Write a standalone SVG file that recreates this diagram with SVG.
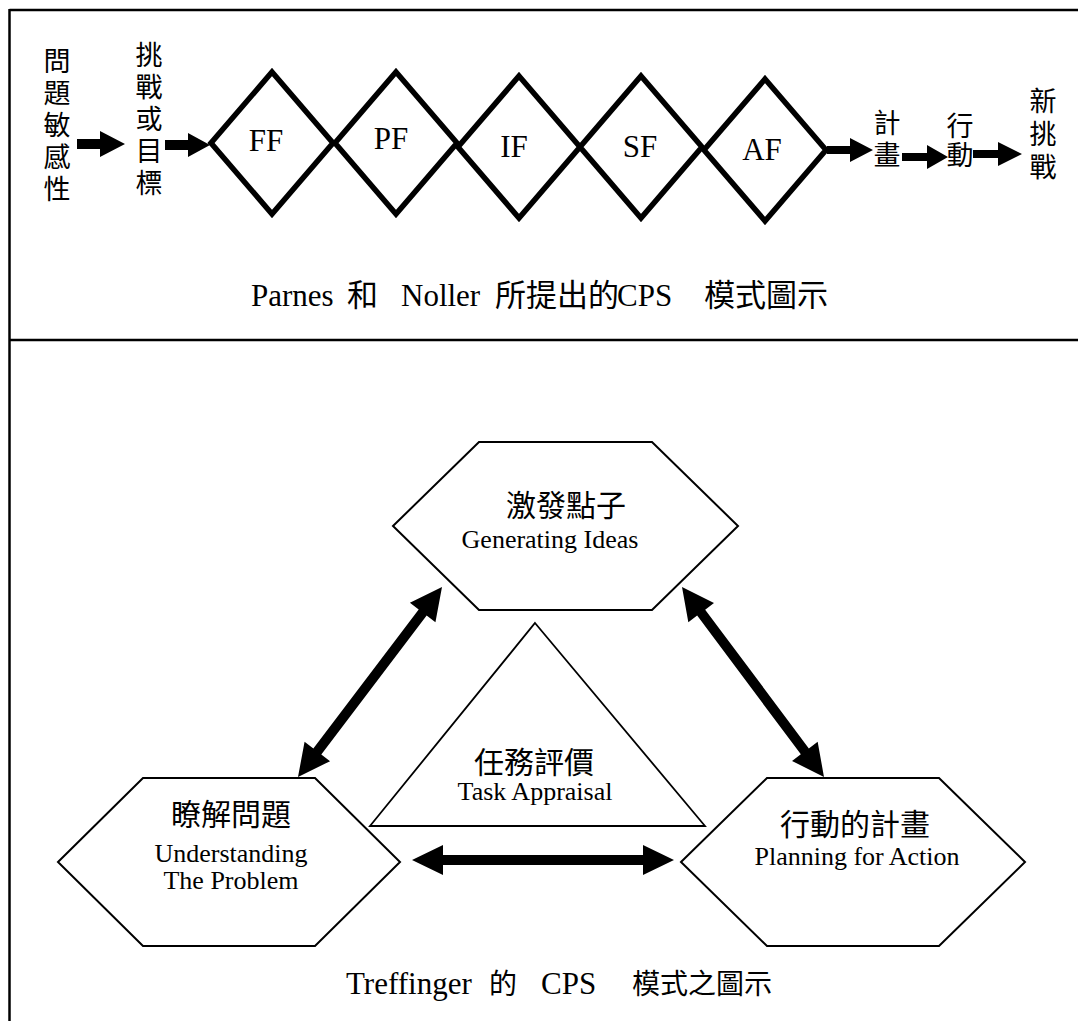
<svg xmlns="http://www.w3.org/2000/svg" width="1078" height="1021" viewBox="0 0 1078 1021">
<style>
.frame{stroke:#000;stroke-width:2.5;fill:none}
.dia{fill:#fff;stroke:#000;stroke-width:5.5;stroke-linejoin:miter}
.hex{fill:#fff;stroke:#000;stroke-width:2}
.tri{fill:#fff;stroke:#000;stroke-width:1.8}
.arr{fill:#000;stroke:none}
text{font-family:"Liberation Serif","Noto Sans CJK TC",serif;fill:#000}
.v{font-size:27px;text-anchor:middle}
.d{font-size:31px;text-anchor:middle}
.cap{font-size:31px}
.zh{font-size:30px;text-anchor:middle}
.en{font-size:26px;text-anchor:middle}
</style>
<rect x="0" y="0" width="1078" height="1021" fill="#fff"/>
<g id="frame">
<line class="frame" x1="9.5" y1="10" x2="1078" y2="10"/>
<line class="frame" x1="9.5" y1="340" x2="1078" y2="340"/>
<line class="frame" x1="9.5" y1="9" x2="9.5" y2="1021"/>
</g>
<g id="n-sensitivity"><text class="v"><tspan x="57" y="71">問</tspan><tspan x="57" y="103">題</tspan><tspan x="57" y="135">敏</tspan><tspan x="57" y="167">感</tspan><tspan x="57" y="199">性</tspan></text></g>
<g id="n-goal"><text class="v"><tspan x="149" y="65">挑</tspan><tspan x="149" y="97">戰</tspan><tspan x="149" y="129">或</tspan><tspan x="149" y="161">目</tspan><tspan x="149" y="193">標</tspan></text></g>
<g id="n-FF"><polygon class="dia" points="272,72 333,143 272,214 211,143"/><text class="d" x="266" y="151">FF</text></g>
<g id="n-PF"><polygon class="dia" points="396,72 457,143 396,214 335,143"/><text class="d" x="391" y="149">PF</text></g>
<g id="n-IF"><polygon class="dia" points="519,76 580,147 519,218 458,147"/><text class="d" x="514" y="157">IF</text></g>
<g id="n-SF"><polygon class="dia" points="641,76 702,147 641,218 580,147"/><text class="d" x="640" y="157">SF</text></g>
<g id="n-AF"><polygon class="dia" points="765,79 826,150 765,221 704,150"/><text class="d" x="762" y="160">AF</text></g>
<g id="n-plan"><text class="v"><tspan x="887" y="133">計</tspan><tspan x="887" y="165">畫</tspan></text></g>
<g id="n-action"><text class="v"><tspan x="960" y="136">行</tspan><tspan x="960" y="165">動</tspan></text></g>
<g id="n-newchallenge"><text class="v"><tspan x="1043" y="111">新</tspan><tspan x="1043" y="144">挑</tspan><tspan x="1043" y="177">戰</tspan></text></g>
<g id="caption1"><text class="cap" y="306"><tspan x="251">Parnes</tspan><tspan x="347">和</tspan><tspan x="401">Noller</tspan><tspan x="495">所提出的</tspan><tspan x="617">CPS</tspan><tspan x="704">模式圖示</tspan></text></g>
<g id="n-generating">
<polygon class="hex" points="393,526 479,442 652,442 738,526 652,610 479,610"/>
<text class="zh" x="566" y="516">激發點子</text>
<text class="en" x="550" y="548">Generating Ideas</text>
</g>
<g id="n-task">
<polygon class="tri" points="535,623 705,826 370,826"/>
<text class="zh" x="534" y="773">任務評價</text>
<text class="en" x="535" y="800">Task Appraisal</text>
</g>
<g id="n-understanding">
<polygon class="hex" points="58,862 143,778 315,778 400,862 315,946 143,946"/>
<text class="zh" x="231" y="825">瞭解問題</text>
<text class="en" x="231" y="862">Understanding</text>
<text class="en" x="231" y="889">The Problem</text>
</g>
<g id="n-planning">
<polygon class="hex" points="681,862 767,778 939,778 1025,862 939,946 767,946"/>
<text class="zh" x="855" y="835">行動的計畫</text>
<text class="en" x="857" y="865">Planning for Action</text>
</g>
<g id="connectors">
<path class="arr" d="M77,139 H100 V131 L125,144 L100,157 V149 H77 Z"/>
<path class="arr" d="M165,140 H188 V133 L210,145 L188,157 V150 H165 Z"/>
<path class="arr" d="M827,146 H850 V138 L873,150 L850,162 V154 H827 Z"/>
<path class="arr" d="M902,153 H927 V145 L948,157 L927,169 V161 H902 Z"/>
<path class="arr" d="M973,150 H998 V142 L1022,154 L998,166 V158 H973 Z"/>
<path class="arr" transform="translate(370,682) rotate(-52.84)" d="M-119.2,0 L-87.2,-16 V-5 H87.2 V-16 L119.2,0 L87.2,16 V5 H-87.2 V16 Z"/>
<path class="arr" transform="translate(753,682) rotate(53.23)" d="M-118.6,0 L-86.6,-16 V-5 H86.6 V-16 L118.6,0 L86.6,16 V5 H-86.6 V16 Z"/>
<path class="arr" transform="translate(543,860)" d="M-131,0 L-100,-15 V-5 H100 V-15 L131,0 L100,15 V5 H-100 V15 Z"/>
</g>
<g id="caption2"><text class="cap" y="994"><tspan x="346">Treffinger</tspan><tspan x="489" style="font-size:28px">的</tspan><tspan x="541">CPS</tspan><tspan x="632" style="font-size:28px">模式之圖示</tspan></text></g>
</svg>
